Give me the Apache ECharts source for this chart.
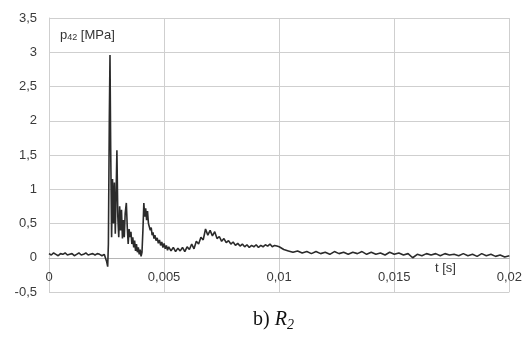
<!DOCTYPE html>
<html>
<head>
<meta charset="utf-8">
<script src="https://cdn.jsdelivr.net/npm/echarts@6/dist/echarts.min.js"></script>
<style>
  html, body { margin: 0; padding: 0; background: #fff; }
  #chart { width: 525px; height: 338px; }
</style>
</head>
<body>
<div id="chart"></div>
<script>
// time [s] and pressure [MPa]
const times = [
  0, 0.0001, 0.0002, 0.0003, 0.0004, 0.0005, 0.0006, 0.0007, 0.0008, 0.0009,
  0.001, 0.0011, 0.0012, 0.0013, 0.0014, 0.0015, 0.0016, 0.0017, 0.0018, 0.0019,
  0.002, 0.0021, 0.0022, 0.0023, 0.0024, 0.0025, 0.00255,
  0.00258, 0.00262, 0.00265, 0.00268, 0.00272, 0.00276, 0.0028, 0.00284, 0.00288, 0.00292,
  0.00295, 0.00299, 0.00303, 0.00307, 0.00311, 0.00315, 0.00319, 0.00323, 0.00327, 0.00331,
  0.00336, 0.0034, 0.00344, 0.00348, 0.00352, 0.00356, 0.0036, 0.00364, 0.00368, 0.00372,
  0.00376, 0.0038, 0.00384, 0.00388, 0.00392, 0.00396, 0.004, 0.00404, 0.00408, 0.00412,
  0.00416, 0.0042, 0.00424, 0.00428, 0.00432, 0.00436, 0.0044, 0.00444, 0.00448, 0.00452,
  0.00456, 0.0046, 0.00465, 0.0047, 0.00475, 0.0048, 0.00485, 0.0049, 0.00495, 0.005,
  0.00505, 0.0051, 0.00515, 0.0052, 0.0053, 0.0054, 0.0055, 0.0056, 0.0057, 0.0058,
  0.0059, 0.006, 0.0061, 0.0062, 0.0063, 0.0064, 0.0065, 0.0066, 0.0067, 0.0068,
  0.0069, 0.007, 0.0071, 0.0072, 0.0073, 0.0074, 0.0075, 0.0076, 0.0077, 0.0078,
  0.0079, 0.008, 0.0081, 0.0082, 0.0083, 0.0084, 0.0085, 0.0086, 0.0087, 0.0088,
  0.0089, 0.009, 0.0091, 0.0092, 0.0093, 0.0094, 0.0095, 0.0096, 0.0097, 0.0098,
  0.0099, 0.01, 0.0102, 0.0104, 0.0106, 0.0108, 0.011, 0.0112, 0.0114, 0.0116,
  0.0118, 0.012, 0.0122, 0.0124, 0.0126, 0.0128, 0.013, 0.0132, 0.0134, 0.0136,
  0.0138, 0.014, 0.0142, 0.0144, 0.0146, 0.0148, 0.015, 0.0152, 0.0154, 0.0156,
  0.0158, 0.016, 0.0162, 0.0164, 0.0166, 0.0168, 0.017, 0.0172, 0.0174, 0.0176,
  0.0178, 0.018, 0.0182, 0.0184, 0.0186, 0.0188, 0.019, 0.0192, 0.0194, 0.0196,
  0.0198, 0.02
];
const pressure = [
  0.06, 0.04, 0.07, 0.05, 0.03, 0.06, 0.05, 0.07, 0.04, 0.05,
  0.06, 0.03, 0.05, 0.07, 0.04, 0.05, 0.07, 0.04, 0.05, 0.06,
  0.04, 0.06, 0.05, 0.03, 0.05, -0.05, -0.13,
  0.2, 2.0, 2.96, 1.6, 0.3, 1.15, 0.5, 1.1, 0.35, 1.0,
  1.57, 0.6, 0.3, 0.75, 0.4, 0.7, 0.28, 0.55, 0.3, 0.65,
  0.8, 0.45, 0.2, 0.42, 0.3, 0.38, 0.2, 0.3, 0.15, 0.25,
  0.1, 0.2, 0.08, 0.15, 0.05, 0.12, 0.02, 0.08, 0.4, 0.8,
  0.6, 0.72, 0.55, 0.68, 0.5, 0.52, 0.4, 0.44, 0.33, 0.37,
  0.28, 0.33, 0.25, 0.29, 0.21, 0.26, 0.18, 0.23, 0.15, 0.21,
  0.13, 0.18, 0.11, 0.16, 0.1, 0.15, 0.09, 0.14, 0.1, 0.15,
  0.09, 0.16, 0.12, 0.2, 0.13, 0.24, 0.2, 0.3, 0.26, 0.42,
  0.33, 0.4, 0.32, 0.38, 0.28, 0.31, 0.24, 0.28, 0.22, 0.25,
  0.2, 0.23, 0.18, 0.21, 0.17, 0.2, 0.16, 0.19, 0.15, 0.18,
  0.16, 0.19, 0.15, 0.18, 0.16, 0.19, 0.17, 0.2, 0.16, 0.18,
  0.17, 0.16, 0.12, 0.1, 0.08, 0.1, 0.07, 0.09, 0.06, 0.09,
  0.06, 0.08, 0.05, 0.09, 0.06, 0.08, 0.05, 0.08, 0.06, 0.09,
  0.05, 0.08, 0.05, 0.07, 0.04, 0.08, 0.05, 0.07, 0.04, 0.06,
  0.0, 0.05, 0.03, 0.06, 0.04, 0.06, 0.03, 0.06, 0.04, 0.05,
  0.03, 0.06, 0.03, 0.05, 0.02, 0.06, 0.03, 0.05, 0.02, 0.04,
  0.01, 0.03
];
const xTicks = ["0", "0,005", "0,01", "0,015", "0,02"];
const yTicks = ["-0,5", "0", "0,5", "1", "1,5", "2", "2,5", "3", "3,5"];

const chart = echarts.init(document.getElementById("chart"));
const lineData = times.map((t, i) => [t, pressure[i]]);
const gridColor = "#cfcfcf";

chart.setOption({
  animation: false,
  textStyle: { fontFamily: "Liberation Sans" },
  grid: { left: 49, right: 11, top: 18, bottom: 46 },
  xAxis: [
    {
      type: "value",
      min: 0,
      max: 0.02,
      interval: 0.005,
      position: "bottom",
      offset: -34.25,
      axisLine: { onZero: false, lineStyle: { color: "#b5b5b5", width: 1 } },
      axisTick: { show: false },
      splitLine: { show: true, lineStyle: { color: gridColor, width: 1 } },
      axisLabel: {
        color: "#3a3a3a",
        fontSize: 13,
        margin: 13,
        formatter: (v) => xTicks[Math.round(v / 0.005)]
      }
    }
  ],
  yAxis: {
    type: "value",
    min: -0.5,
    max: 3.5,
    interval: 0.5,
    axisLine: { show: true, onZero: false, lineStyle: { color: gridColor } },
    axisTick: { show: false },
    splitLine: { show: true, lineStyle: { color: gridColor, width: 1 } },
    axisLabel: {
      color: "#3a3a3a",
      fontSize: 13,
      margin: 12,
      formatter: (v) => yTicks[Math.round((v + 0.5) / 0.5)]
    }
  },
  series: [
    {
      type: "line",
      data: lineData,
      showSymbol: false,
      lineStyle: { color: "#2b2b2b", width: 1.6 }
    }
  ],
  graphic: [
    {
      type: "text",
      left: 60,
      top: 29,
      style: {
        text: "{a|p}{s|42}{a| [MPa]}",
        rich: {
          a: { fontSize: 13, fill: "#333", fontFamily: "Liberation Sans" },
          s: { fontSize: 9, fill: "#333", fontFamily: "Liberation Sans", verticalAlign: "bottom", padding: [5, 0, 0, 0] }
        }
      }
    },
    {
      type: "text",
      left: 435,
      top: 262,
      style: { text: "t [s]", fontSize: 13, fill: "#333", fontFamily: "Liberation Sans" }
    },
    {
      type: "text",
      left: 253,
      top: 310,
      style: {
        text: "{n|b) }{i|R}{s|2}",
        rich: {
          n: { fontSize: 20, fill: "#111", fontFamily: "Liberation Serif" },
          i: { fontSize: 20, fill: "#111", fontFamily: "Liberation Serif", fontStyle: "italic" },
          s: { fontSize: 14, fill: "#111", fontFamily: "Liberation Serif", fontStyle: "italic", padding: [10, 0, 0, 0] }
        }
      }
    }
  ]
});
</script>
</body>
</html>
